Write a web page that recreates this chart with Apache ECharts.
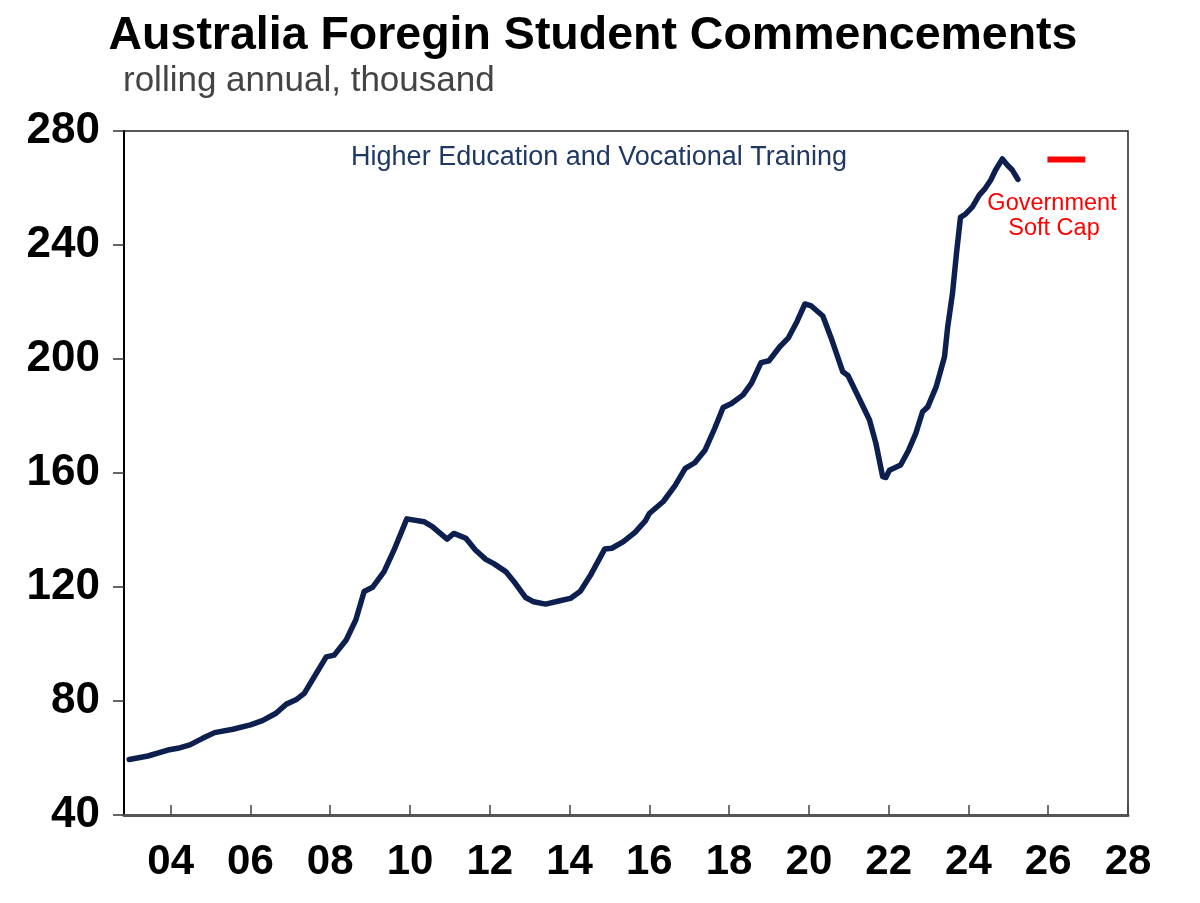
<!DOCTYPE html>
<html>
<head>
<meta charset="utf-8">
<script src="https://cdn.jsdelivr.net/npm/echarts@6/dist/echarts.min.js"></script>
<style>
html,body{margin:0;padding:0;background:#fff;}
#chart{width:1200px;height:903px;}
</style>
</head>
<body>
<div id="chart"></div>
<script>
// Decimal-year dates of the rolling annual series
var dates = [
  2002.96, 2003.43, 2003.93, 2004.18, 2004.48, 2004.8, 2005.1, 2005.56, 2006.0, 2006.3,
  2006.64, 2006.9, 2007.14, 2007.35, 2007.6, 2007.9, 2008.1, 2008.4, 2008.64, 2008.85,
  2009.06, 2009.35, 2009.6, 2009.92, 2010.35, 2010.56, 2010.93, 2011.1, 2011.4, 2011.64,
  2011.9, 2012.1, 2012.4, 2012.64, 2012.9, 2013.1, 2013.4, 2013.73, 2014.02, 2014.27,
  2014.54, 2014.88, 2015.06, 2015.35, 2015.64, 2015.9, 2016.0, 2016.35, 2016.64, 2016.9,
  2017.14, 2017.4, 2017.64, 2017.85, 2018.06, 2018.35, 2018.56, 2018.8, 2019.0, 2019.27,
  2019.48, 2019.7, 2019.9, 2020.06, 2020.35, 2020.56, 2020.85, 2020.98, 2021.3, 2021.52,
  2021.68, 2021.85, 2021.93, 2022.02, 2022.3, 2022.5, 2022.68, 2022.85, 2022.98, 2023.19,
  2023.4, 2023.48, 2023.6, 2023.7, 2023.8, 2023.93, 2024.1, 2024.27, 2024.4, 2024.56,
  2024.68, 2024.85, 2024.98, 2025.1, 2025.24
];
// Commencements, thousand
var commencements = [
  59.5, 60.7, 62.8, 63.4, 64.6, 66.9, 68.9, 70.1, 71.6, 73.1,
  75.7, 78.9, 80.4, 82.7, 88.5, 95.5, 96.1, 101.4, 108.4, 118.4,
  119.9, 125.4, 133.0, 143.9, 142.9, 141.2, 136.8, 138.8, 137.1, 133.0,
  129.7, 128.2, 125.4, 121.3, 116.3, 114.8, 114.0, 115.1, 116.0, 118.5,
  124.5, 133.3, 133.6, 135.9, 139.2, 143.2, 145.8, 150.0, 155.5, 161.6,
  163.6, 168.1, 175.7, 183.0, 184.4, 187.4, 191.5, 198.7, 199.4, 204.3,
  207.3, 213.1, 219.3, 218.6, 215.1, 207.3, 195.5, 194.2, 185.0, 178.6,
  170.4, 158.7, 158.4, 161.0, 162.8, 168.0, 173.9, 181.5, 183.2, 190.2,
  200.8, 211.3, 223.0, 237.0, 249.7, 250.9, 253.4, 257.5, 259.5, 262.8,
  266.3, 270.2, 268.0, 266.3, 263.0
];
// Government soft cap marker
var capDates = [2025.98, 2026.93];
var capValues = [270, 270];
// Axis ticks
var xTicks = [2004, 2006, 2008, 2010, 2012, 2014, 2016, 2018, 2020, 2022, 2024, 2026, 2028];
var yTicks = [40, 80, 120, 160, 200, 240, 280];

var mainData = dates.map(function (d, i) { return [d, commencements[i]]; });
var capData = capDates.map(function (d, i) { return [d, capValues[i]]; });

var FONT = '"Liberation Sans", Arial, sans-serif';
var chart = echarts.init(document.getElementById('chart'));
chart.setOption({
  backgroundColor: '#ffffff',
  animation: false,
  grid: {
    left: 124, right: 72, top: 131, bottom: 88,
    show: true, borderColor: '#222', borderWidth: 1.5, backgroundColor: 'transparent'
  },
  xAxis: {
    type: 'value',
    min: 2002.83, max: 2028,
    axisLine: { show: true, lineStyle: { color: '#555', width: 3 } },
    axisTick: { show: true, inside: true, length: 10, lineStyle: { color: '#444', width: 1.5 }, customValues: xTicks },
    axisLabel: {
      customValues: xTicks,
      margin: 26,
      color: '#000', fontFamily: FONT, fontWeight: 'bold', fontSize: 42,
      formatter: function (v) { var s = String(Math.round(v) % 100); return s.length < 2 ? '0' + s : s; }
    },
    splitLine: { show: false }
  },
  yAxis: {
    type: 'value',
    min: yTicks[0], max: yTicks[yTicks.length - 1], interval: 40,
    axisLine: { show: true, lineStyle: { color: '#000', width: 2 } },
    axisTick: { show: true, inside: false, length: 11, lineStyle: { color: '#333', width: 1.5 } },
    axisLabel: { margin: 24, color: '#000', fontFamily: FONT, fontWeight: 'bold', fontSize: 44 },
    splitLine: { show: false }
  },
  series: [
    {
      type: 'line', data: mainData, showSymbol: false, symbol: 'none', smooth: false,
      lineStyle: { color: '#0d1f4f', width: 5.5, join: 'round', cap: 'round' },
      z: 3
    },
    {
      type: 'line', data: capData, showSymbol: false, symbol: 'none',
      lineStyle: { color: '#ff0000', width: 6, cap: 'butt' },
      z: 3
    }
  ],
  graphic: [
    { type: 'text', x: 593, y: 36,
      style: { text: 'Australia Foregin Student Commencements', textAlign: 'center', textVerticalAlign: 'middle',
        font: 'bold 46.5px ' + FONT, fill: '#000' } },
    { type: 'text', x: 123, y: 81,
      style: { text: 'rolling annual, thousand', textAlign: 'left', textVerticalAlign: 'middle',
        font: '35px ' + FONT, fill: '#444' } },
    { type: 'text', x: 599, y: 158,
      style: { text: 'Higher Education and Vocational Training', textAlign: 'center', textVerticalAlign: 'middle',
        font: '27px ' + FONT, fill: '#1f3864' } },
    { type: 'text', x: 1052, y: 204,
      style: { text: 'Government', textAlign: 'center', textVerticalAlign: 'middle',
        font: '23.5px ' + FONT, fill: '#ff0000' } },
    { type: 'text', x: 1054, y: 229,
      style: { text: 'Soft Cap', textAlign: 'center', textVerticalAlign: 'middle',
        font: '23.5px ' + FONT, fill: '#ff0000' } }
  ]
});
</script>
</body>
</html>
